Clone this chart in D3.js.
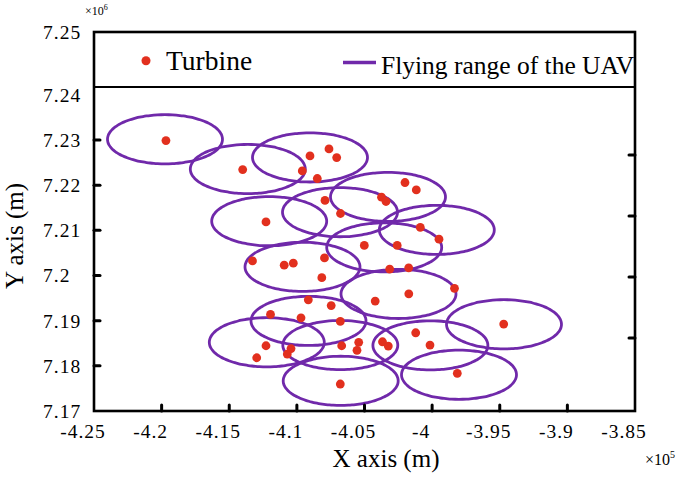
<!DOCTYPE html>
<html>
<head>
<meta charset="utf-8">
<script src="https://cdn.jsdelivr.net/npm/d3@7"></script>
<style>
  html, body { margin: 0; padding: 0; background: #fff; }
  svg text { font-family: "Liberation Serif", "Times New Roman", serif; fill: #000; }
</style>
</head>
<body>
<svg id="chart" width="678" height="484"></svg>
<script>
// ---------- data (metres) ----------
const turbineX = [-419680, -414006, -409030, -407625, -407056, -409599, -408490, -407921, -406775, -412283,
  -405015, -403743, -403410, -402006, -401170, -400874, -399492, -402582, -407958, -403137,
  -401732, -408157, -398346, -404209, -401725, -407462, -413281, -410937, -410264, -409155,
  -411950, -409695, -406789, -412283, -412970, -410434, -410708, -406686, -405429, -405555,
  -403669, -403240, -406789, -394708, -401214, -400157, -398139];
const turbineY = [7229870, 7223457, 7226465, 7228013, 7226111, 7223147, 7221466, 7216623, 7213725, 7211867,
  7206648, 7217330, 7216379, 7220582, 7218945, 7210629, 7208041, 7206648, 7203883, 7201406,
  7201694, 7199526, 7197160, 7194329, 7195943, 7193333, 7203220, 7202291, 7202733, 7194616,
  7191387, 7190635, 7189839, 7184442, 7181788, 7183823, 7182607, 7184442, 7185194, 7183425,
  7185327, 7184376, 7175972, 7189242, 7187318, 7184597, 7178338];

const rangeCenterX = [-419751, -413628, -409030, -412046, -406811, -403263, -403543, -399654, -409584,
  -402486, -409140, -394686, -412224, -406789, -400128, -406760, -398013];
const rangeCenterY = [7230158, 7223567, 7226133, 7212022, 7214013, 7217397, 7206228, 7210098, 7201915,
  7195921, 7189950, 7189198, 7185216, 7184597, 7184531, 7176679, 7178028];
const rangeRadiusX = 4250;   // metres
const rangeRadiusY = 5440;   // metres

const xTickLabels = [-425000, -420000, -415000, -410000, -405000, -400000, -395000, -390000, -385000];
const xTickMarks  = [-420000, -415000, -410000, -405000, -400000, -395000, -390000];
const yTickLabels = [7170000, 7180000, 7190000, 7200000, 7210000, 7220000, 7230000, 7240000, 7250000];
const yTickMarks  = [7180000, 7190000, 7200000, 7210000, 7220000, 7230000];
const yRightTickMarks = [7200000, 7210000, 7220000, 7230000];

const legendLabels = ["Turbine", "Flying range of the UAV"];

// ---------- layout ----------
const SERIF = "'Liberation Serif', 'Times New Roman', serif";
const svg = d3.select("#chart");
const L = 94, R = 635, T = 32, B = 411;
const purple = "#7029AA", red = "#E2301E";

const x = d3.scaleLinear().domain([-425000, -385000]).range([L, R]);
const y = d3.scaleLinear().domain([7170000, 7240000, 7250000]).range([B, 94.8, T]);
const yRight = d3.scaleLinear().domain([7170000, 7250000]).range([521, 33]);

svg.append("rect").attr("width", 678).attr("height", 484).attr("fill", "#fff");

// ellipses (flying ranges)
const angles = d3.range(0, 96).map(i => i / 96 * 2 * Math.PI);
const ell = d3.line().curve(d3.curveCardinalClosed);
svg.append("g").selectAll("path")
  .data(rangeCenterX.map((cx, i) => ({cx, cy: rangeCenterY[i]})))
  .join("path")
  .attr("d", d => ell(angles.map(a => [x(d.cx + rangeRadiusX * Math.cos(a)), y(d.cy + rangeRadiusY * Math.sin(a))])))
  .attr("fill", "none")
  .attr("stroke", purple)
  .attr("stroke-width", 2.8);

// turbines
svg.append("g").selectAll("circle")
  .data(turbineX.map((tx, i) => ({tx, ty: turbineY[i]})))
  .join("circle")
  .attr("cx", d => x(d.tx))
  .attr("cy", d => y(d.ty))
  .attr("r", 4.4)
  .attr("fill", red);

// frame
const frame = svg.append("g").attr("fill", "none").attr("stroke", "#000");
frame.append("rect").attr("x", L).attr("y", T).attr("width", R - L).attr("height", B - T).attr("stroke-width", 2.6);
// legend lower border
frame.append("line").attr("x1", L).attr("x2", R).attr("y1", 87).attr("y2", 87).attr("stroke-width", 2);

// tick marks
const tk = svg.append("g").attr("stroke", "#000").attr("stroke-width", 3).attr("stroke-linecap", "round");
tk.selectAll(".xt").data(xTickMarks).join("line")
  .attr("x1", d => x(d)).attr("x2", d => x(d)).attr("y1", B).attr("y2", B - 6);
tk.selectAll(".yt").data(yTickMarks).join("line")
  .attr("y1", d => y(d)).attr("y2", d => y(d)).attr("x1", L).attr("x2", L + 6);
tk.selectAll(".yr").data(yRightTickMarks).join("line")
  .attr("y1", d => yRight(d)).attr("y2", d => yRight(d)).attr("x1", R).attr("x2", R - 6);

// tick labels
svg.append("g").selectAll("text").data(xTickLabels).join("text")
  .attr("x", d => x(d) - 11).attr("y", B + 27)
  .attr("text-anchor", "middle")
  .style("font-family", SERIF)
  .attr("font-size", 19.5).attr("letter-spacing", 1)
  .text(d => String(+(d / 1e5).toFixed(2)));
svg.append("g").selectAll("text").data(yTickLabels).join("text")
  .attr("x", 43).attr("y", d => y(d) + 7)
  .attr("text-anchor", "start")
  .style("font-family", SERIF)
  .attr("font-size", 19.5).attr("letter-spacing", 1)
  .text(d => String(+(d / 1e6).toFixed(2)));

// exponent labels
const e6 = svg.append("text").attr("x", 85).attr("y", 15).attr("font-size", 12).style("font-family", SERIF);
e6.append("tspan").text("×10");
e6.append("tspan").attr("dy", -5).attr("font-size", 8).text("6");
const e5 = svg.append("text").attr("x", 645).attr("y", 465).attr("font-size", 16).style("font-family", SERIF);
e5.append("tspan").text("×10");
e5.append("tspan").attr("dy", -7).attr("font-size", 10).text("5");

// axis titles
svg.append("text").attr("x", 386).attr("y", 467).attr("text-anchor", "middle")
  .style("font-family", SERIF).attr("font-size", 25).text("X axis (m)");
svg.append("text").attr("transform", "translate(23,236) rotate(-90)").attr("text-anchor", "middle")
  .style("font-family", SERIF).attr("font-size", 25).text("Y axis (m)");

// legend
svg.append("circle").attr("cx", 146).attr("cy", 60.7).attr("r", 4.5).attr("fill", red);
svg.append("text").attr("x", 166).attr("y", 70).style("font-family", SERIF).attr("font-size", 27.5).text(legendLabels[0]);
svg.append("line").attr("x1", 343).attr("x2", 376).attr("y1", 62.5).attr("y2", 62.5)
  .attr("stroke", purple).attr("stroke-width", 3.5);
svg.append("text").attr("x", 381).attr("y", 74).style("font-family", SERIF).attr("font-size", 25.5).text(legendLabels[1]);
</script>
</body>
</html>
